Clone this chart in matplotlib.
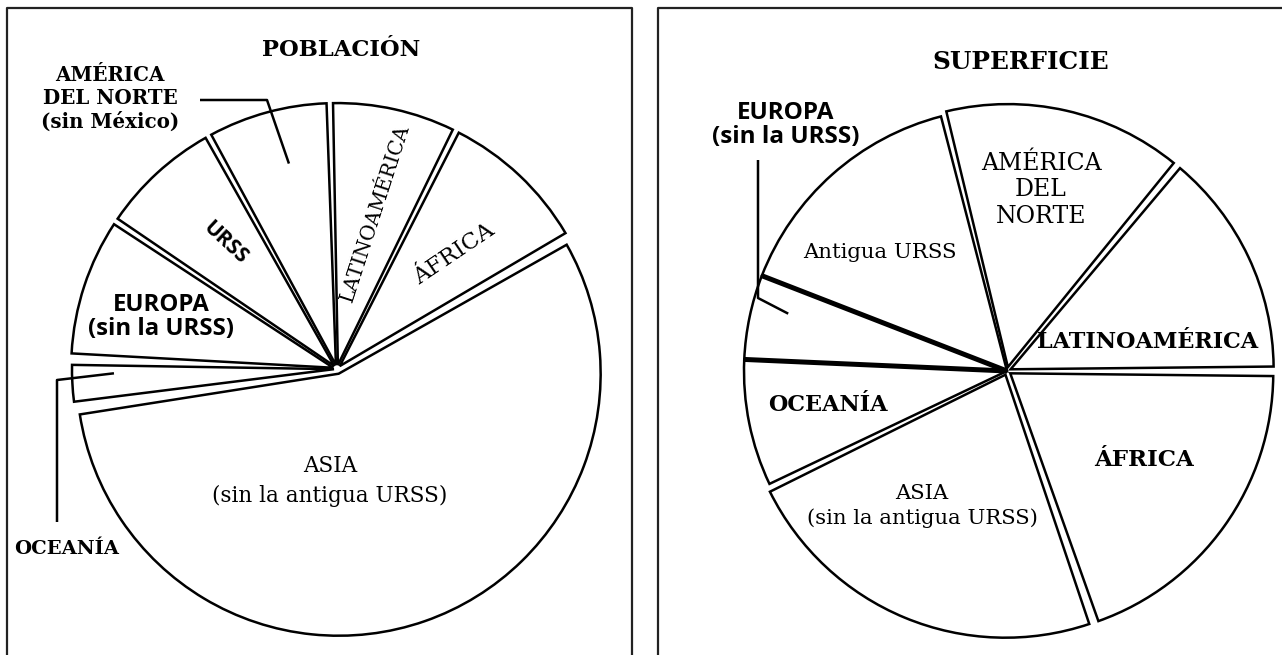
import numpy as np
import matplotlib
matplotlib.use('Agg')
import matplotlib.pyplot as plt

W, H = 1282, 655  # tamaño de la figura en píxeles

# POBLACIÓN: porcentaje mundial, en sentido antihorario desde África
pob_labels = ['ÁFRICA', 'LATINOAMÉRICA', 'AMÉRICA\nDEL NORTE\n(sin México)', 'URSS',
              'EUROPA\n(sin la URSS)', 'OCEANÍA', 'ASIA\n(sin la antigua URSS)']
pob_values = [9.3, 7.8, 7.6, 7.6, 8.8, 2.8, 56.1]

# SUPERFICIE: porcentaje mundial, en sentido antihorario desde Latinoamérica
sup_labels = ['LATINOAMÉRICA', 'AMÉRICA\nDEL\nNORTE', 'Antigua URSS', 'EUROPA\n(sin la URSS)',
              'OCEANÍA', 'ASIA\n(sin la antigua URSS)', 'ÁFRICA']
sup_values = [14.0, 14.9, 15.2, 5.2, 7.9, 23.1, 19.7]

SERIF = ['DejaVu Serif']
SANS = ['Open Sans', 'DejaVu Sans']


def fy(v):
    # fila de la imagen -> coordenada y de los ejes
    return H - v


def pie_con_huecos(ax, values, gaps, start, center, radius, explode):
    # gaps[i] = hueco (grados) despues del sector i; los huecos son sectores invisibles
    S = float(sum(values))
    vals, expl = [], []
    n = len(values)
    for i in range(n):
        g_antes = gaps[i - 1]
        g_desp = gaps[i]
        ang = values[i] * 360.0 / S - (g_antes + g_desp) / 2.0
        vals += [ang, gaps[i]]
        expl += [explode[i], 0]
    wedges, _ = ax.pie(vals, startangle=start + gaps[-1] / 2.0, counterclock=True,
                       center=center, radius=radius, explode=expl, frame=True,
                       wedgeprops=dict(facecolor='white', edgecolor='black', linewidth=1.8))
    for w in wedges[1::2]:
        w.set_visible(False)
    return wedges[0::2]


def punto(w, frac_ang, frac_r):
    ang = np.radians(w.theta1 + frac_ang * (w.theta2 - w.theta1))
    cx, cy = w.center
    return cx + frac_r * w.r * np.cos(ang), cy + frac_r * w.r * np.sin(ang)


def guia(ax, pts, w, frac_ang, frac_r):
    tx, ty = punto(w, frac_ang, frac_r)
    xs = [p[0] for p in pts] + [tx]
    ys = [fy(p[1]) for p in pts] + [ty]
    ax.plot(xs, ys, color='black', lw=1.8, solid_capstyle='butt')


fig = plt.figure(figsize=(W / 100, H / 100), dpi=100)
ax = fig.add_axes([0, 0, 1, 1])

# marcos
ax.plot([7, 7, 632, 632], [fy(665), fy(8), fy(8), fy(665)], color='#222222', lw=1.6)
ax.plot([658, 658, 1290], [fy(665), fy(8), fy(8)], color='#222222', lw=1.6)

# ---- POBLACIÓN ----
pw = pie_con_huecos(ax, pob_values, [1.0, 1.0, 1.0, 1.0, 2.2, 1.8, 1.0], 30,
                    (337, fy(369)), 262, [4, 4, 4, 4, 4, 3, 5])

ax.text(341, fy(50), 'POBLACIÓN', family=SERIF, weight='bold', fontsize=16.3,
        ha='center', va='center')

pob_pos = [(454, 254), (375, 213), (110, 98), (225, 243), (161, 317), (67, 549), (330, 481)]
pob_rot = [34, 72, 0, -43, 0, 0, 0]
pob_fam = [SERIF, SERIF, SERIF, SANS, SANS, SERIF, SERIF]
pob_wt = ['normal', 'normal', 'bold', 'bold', 'bold', 'bold', 'normal']
pob_fs = [16.5, 14.5, 14.3, 15, 17.3, 14, 15.5]
pob_ls = [1, 1, 1.2, 1, 1.05, 1, 1.5]
for lab, p, r, fam, wt, fs, ls in zip(pob_labels, pob_pos, pob_rot, pob_fam, pob_wt, pob_fs, pob_ls):
    ax.text(p[0], fy(p[1]), lab, family=fam, weight=wt, fontsize=fs, rotation=r,
            rotation_mode='anchor', ha='center', va='center', linespacing=ls,
            multialignment='center')

guia(ax, [(200, 100), (267, 100)], pw[2], 0.42, 0.79)
guia(ax, [(57, 522), (57, 380)], pw[5], 0.25, 0.84)

# ---- SUPERFICIE ----
sw = pie_con_huecos(ax, sup_values, [1.0, 1.0, 0, 0, 1.0, 1.0, 1.2], 0,
                    (1007, fy(371)), 263, [4, 4, 0, 0, 0, 4, 4])

# bordes gruesos de Europa
eu = sw[3]
for th in (eu.theta1, eu.theta2):
    a = np.radians(th)
    cx, cy = eu.center
    ax.plot([cx, cx + eu.r * np.cos(a)], [cy, cy + eu.r * np.sin(a)],
            color='black', lw=3.6, solid_capstyle='butt')

ax.text(1021, fy(62), 'SUPERFICIE', family=SERIF, weight='bold', fontsize=17.8,
        ha='center', va='center')

sup_pos = [(1148, 342), (1041, 190), (880, 253), (786, 125), (828, 405), (922, 506), (1144, 460)]
sup_fam = [SERIF, SERIF, SERIF, SANS, SERIF, SERIF, SERIF]
sup_wt = ['bold', 'normal', 'normal', 'bold', 'bold', 'normal', 'bold']
sup_fs = [16, 17, 15.3, 17.5, 16, 15.2, 16.5]
sup_ls = [1, 1.22, 1, 1.05, 1, 1.3, 1]
for lab, p, fam, wt, fs, ls in zip(sup_labels, sup_pos, sup_fam, sup_wt, sup_fs, sup_ls):
    ax.text(p[0], fy(p[1]), lab, family=fam, weight=wt, fontsize=fs,
            ha='center', va='center', linespacing=ls, multialignment='center')

guia(ax, [(758, 160), (758, 298)], sw[3], 0.35, 0.86)

ax.set_xlim(0, W)
ax.set_ylim(0, H)
ax.axis('off')

fig.savefig('out.png', dpi=100, facecolor='white')
